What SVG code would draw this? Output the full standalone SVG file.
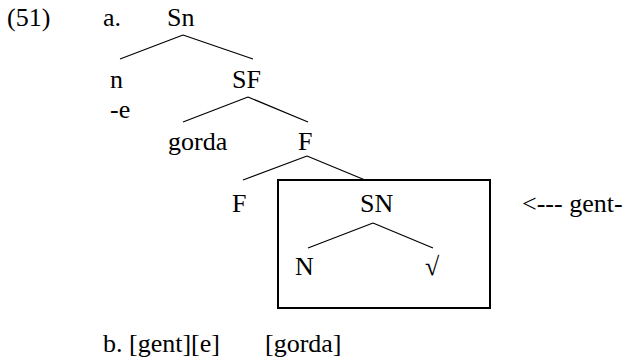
<svg xmlns="http://www.w3.org/2000/svg" width="624" height="362" viewBox="0 0 624 362">
<style>
text{font-family:'Liberation Serif','Times New Roman',serif;font-size:26px;fill:#000}
.e{stroke:#000;stroke-width:1.2;fill:none}
.box{stroke:#000;stroke-width:2;fill:none}
</style>
<rect width="624" height="362" fill="#fff"/>
<g id="labels">
<text x="7" y="26">(51)</text>
<text x="103" y="26">a.</text>
</g>
<g id="node-Sn"><text x="167" y="26">Sn</text></g>
<g id="node-n"><text x="110" y="88">n</text><text x="110" y="118">-e</text></g>
<g id="node-SF"><text x="232" y="88">SF</text></g>
<g id="node-gorda"><text x="168" y="150">gorda</text></g>
<g id="node-F1"><text x="298" y="150">F</text></g>
<g id="node-F2"><text x="232" y="212">F</text></g>
<g id="node-box"><rect class="box" x="278" y="180" width="212" height="128"/></g>
<g id="node-SN"><text x="360" y="212">SN</text></g>
<g id="node-N"><text x="295" y="275">N</text></g>
<g id="node-root"><text x="425" y="275">√</text></g>
<g id="node-gent"><text x="522" y="212">&lt;--- gent-</text></g>
<g id="node-b"><text x="103" y="352">b. [gent][e]<tspan x="265">[gorda]</tspan></text></g>
<g id="connectors">
<path class="e" d="M183 35L120 59M183 35L253 59"/>
<path class="e" d="M248 97L183 122M248 97L308 122"/>
<path class="e" d="M307 156L243 180M307 156L365 180"/>
<path class="e" d="M373 223L308 248M373 223L433 248"/>
</g>
</svg>
